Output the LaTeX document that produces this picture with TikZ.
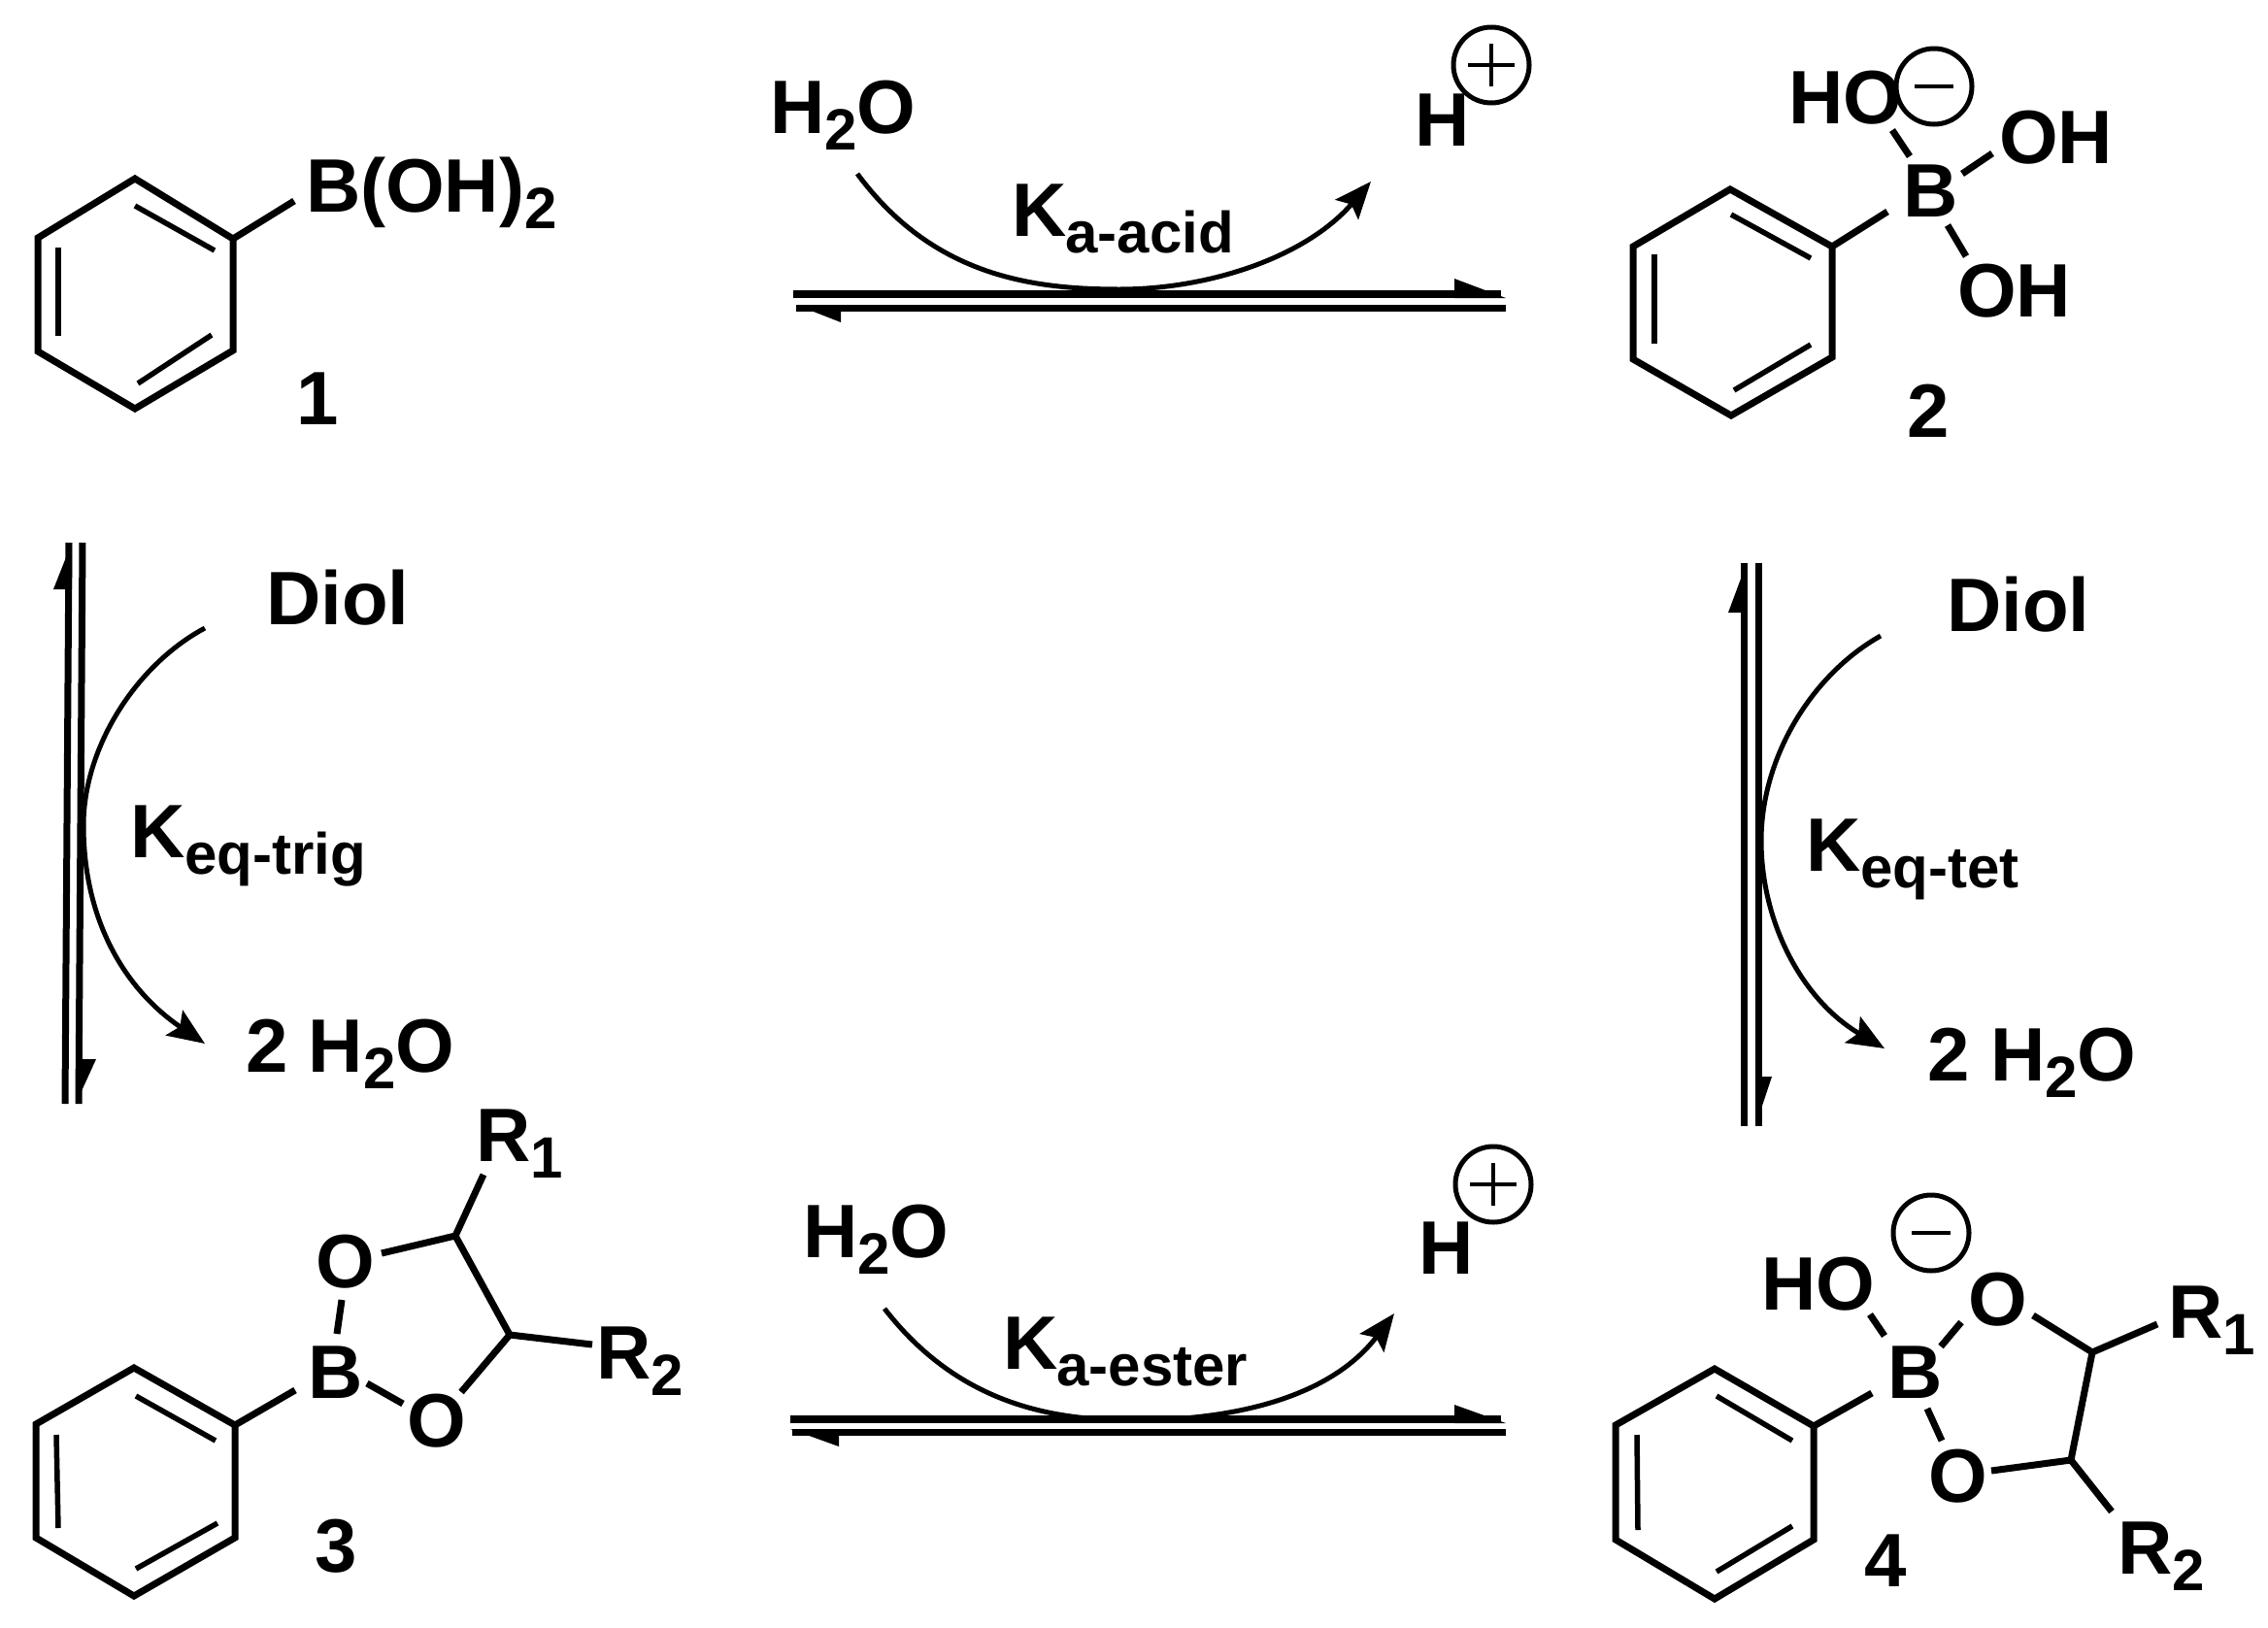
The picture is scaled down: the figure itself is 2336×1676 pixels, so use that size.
\documentclass[tikz,border=0pt]{standalone}
\usepackage{fontspec}
\setmainfont{Liberation Sans}[BoldFont={* Bold}]
\usetikzlibrary{arrows.meta}
\newcommand\mainsz{\fontsize{78}{78}\selectfont\bfseries}
\newcommand\subsz{\fontsize{60}{60}\selectfont\bfseries}
\newcommand\lowr[1]{\raisebox{-17pt}{\subsz #1}}
\tikzset{
  x=1pt,y=-1pt,
  lab/.style={anchor=base west,inner sep=0pt,outer sep=0pt,font=\mainsz,text=black},
  bond/.style={draw=black,line width=7pt,line join=miter},
  inbond/.style={draw=black,line width=5.5pt},
  eq/.style={draw=black,line width=8pt},
  eqthin/.style={draw=black,line width=7pt},
  curved/.style={draw=black,line width=5pt},
  curvedtip/.style={curved,-{Stealth[length=38pt,width=31pt,inset=7pt]}},
  half/.style={fill=black,draw=none},
  chg/.style={circle,draw=black,line width=5pt,minimum size=78pt,inner sep=0pt},
  sign/.style={draw=black,line width=3.5pt}
}
\begin{document}
\begin{tikzpicture}
\useasboundingbox (0,0) rectangle (2336,1676);
\fill[white] (0,0) rectangle (2336,1676);

% ---------- compound 1 ----------
\draw[bond] (139,184) -- (240,246) -- (240,361) -- (139,421) -- (39,362) -- (39,245) -- cycle;
\draw[inbond] (139,212) -- (221,258);
\draw[inbond] (60,255) -- (60,346);
\draw[inbond] (142,395) -- (218,345);
\coordinate (r1c) at (240,246);
\coordinate (r1b) at (303,207);
\draw[bond] (r1c) -- (r1b);
\node[lab] (boh) at (315,218) {B(OH)\lowr{2}};
\node[lab] (n1) at (305,437) {1};

% ---------- compound 2 ----------
\draw[bond] (1782,195) -- (1887,254) -- (1887,368) -- (1783,428) -- (1682,370) -- (1682,254) -- cycle;
\draw[inbond] (1783,221) -- (1865,266);
\draw[inbond] (1704,262) -- (1704,354);
\draw[inbond] (1786,402) -- (1865,355);
\node[lab] (b2) at (1960,223) {B};
\node[lab] (ho2) at (1842,127) {HO};
\node[lab] (oh2a) at (2059,168) {OH};
\node[lab] (oh2b) at (2016,326) {OH};
\node[lab] (n2) at (1964,450) {2};
\node[chg] (m2) at (1992,89) {};
\draw[sign] ([xshift=-20pt]m2.center) -- ([xshift=20pt]m2.center);
\coordinate (r2c) at (1887,254);
\coordinate (r2b) at (1944,218);
\draw[bond] (r2c) -- (r2b);
\coordinate (b2a) at (1949,134); \coordinate (b2b) at (1967,161);
\draw[bond] (b2a) -- (b2b);
\coordinate (b2c) at (2021,179); \coordinate (b2d) at (2052,158);
\draw[bond] (b2c) -- (b2d);
\coordinate (b2e) at (2006,232); \coordinate (b2f) at (2025,264);
\draw[bond] (b2e) -- (b2f);

% ---------- compound 3 ----------
\draw[bond] (138,1409) -- (242,1468) -- (242,1584) -- (138,1644) -- (37,1584) -- (37,1467) -- cycle;
\draw[inbond] (140,1438) -- (222,1484);
\draw[inbond] (58,1478) -- (60,1574);
\draw[inbond] (140,1616) -- (224,1569);
\node[lab] (b3) at (317,1440) {B};
\node[lab] (o3a) at (325,1326) {O};
\node[lab] (o3b) at (419,1490) {O};
\node[lab] (r31) at (490,1196) {R\lowr{1}};
\node[lab] (r32) at (614,1420) {R\lowr{2}};
\node[lab] (n3) at (324,1619) {3};
\coordinate (c31) at (469,1273);
\coordinate (c32) at (525,1375);
\coordinate (r3c) at (242,1468); \coordinate (r3b) at (304,1432);
\draw[bond] (r3c) -- (r3b);
\coordinate (b3a) at (352,1339); \coordinate (b3b) at (347,1374);
\draw[bond] (b3a) -- (b3b);
\coordinate (b3c) at (378,1425); \coordinate (b3d) at (415,1446);
\draw[bond] (b3c) -- (b3d);
\coordinate (o3ae) at (393,1291);
\coordinate (o3be) at (475,1434);
\coordinate (r31e) at (498,1210);
\coordinate (r32e) at (610,1385);
\draw[bond] (o3ae) -- (c31) -- (c32) -- (o3be);
\draw[bond] (c31) -- (r31e);
\draw[bond] (c32) -- (r32e);

% ---------- compound 4 ----------
\draw[bond] (1766,1410) -- (1868,1469) -- (1868,1586) -- (1766,1647) -- (1664,1586) -- (1664,1468) -- cycle;
\draw[inbond] (1768,1438) -- (1846,1484);
\draw[inbond] (1686,1478) -- (1687,1576);
\draw[inbond] (1768,1619) -- (1846,1572);
\node[lab] (b4) at (1944,1440) {B};
\node[lab] (ho4) at (1814,1349) {HO};
\node[lab] (o4a) at (2027,1365) {O};
\node[lab] (o4b) at (1986,1547) {O};
\node[lab] (r41) at (2233,1378) {R\lowr{1}};
\node[lab] (r42) at (2181,1621) {R\lowr{2}};
\node[lab] (n4) at (1920,1634) {4};
\node[chg] (m4) at (1989,1270) {};
\draw[sign] ([xshift=-20pt]m4.center) -- ([xshift=20pt]m4.center);
\coordinate (r4c) at (1868,1469); \coordinate (r4b) at (1928,1435);
\draw[bond] (r4c) -- (r4b);
\coordinate (b4a) at (1926,1354); \coordinate (b4b) at (1941,1376);
\draw[bond] (b4a) -- (b4b);
\coordinate (b4c) at (1999,1387); \coordinate (b4d) at (2020,1362);
\draw[bond] (b4c) -- (b4d);
\coordinate (b4e) at (1985,1451); \coordinate (b4f) at (2000,1484);
\draw[bond] (b4e) -- (b4f);
\coordinate (c41) at (2155,1393);
\coordinate (c42) at (2133,1504);
\coordinate (o4ae) at (2094,1355);
\coordinate (o4be) at (2051,1515);
\coordinate (r41e) at (2222,1364);
\coordinate (r42e) at (2175,1557);
\draw[bond] (o4ae) -- (c41) -- (c42) -- (o4be);
\draw[bond] (c41) -- (r41e);
\draw[bond] (c42) -- (r42e);

% ---------- top equilibrium ----------
\node[lab] (w1) at (793,137) {H\lowr{2}O};
\node[lab] (h1) at (1457,150) {H};
\node[chg] (p1) at (1536,67) {};
\draw[sign] ([xshift=-24pt]p1.center) -- ([xshift=24pt]p1.center);
\draw[sign] ([yshift=-22pt]p1.center) -- ([yshift=22pt]p1.center);
\node[lab] (ka1) at (1042,243) {K\lowr{\kern-1pt a-acid}};
\coordinate (t1a) at (817,303); \coordinate (t1b) at (1546,303);
\coordinate (t1c) at (1551,317); \coordinate (t1d) at (820,317);
\draw[eq] (t1a) -- (t1b);
\fill[half] (1551,307) -- (1498,287) -- (1498,307) -- cycle;
\draw[eqthin] (t1c) -- (t1d);
\fill[half] (820,314) -- (866,332) -- (866,314) -- cycle;
\coordinate (cv1s) at (883,179); \coordinate (cv1m) at (1153,298); \coordinate (cv1e) at (1412,187);
\draw[curved] (cv1s) .. controls (960,283) and (1060,298) .. (cv1m);
\draw[curvedtip] (cv1m) .. controls (1245,298) and (1345,265) .. (cv1e);

% ---------- bottom equilibrium ----------
\node[lab] (w2) at (827,1295) {H\lowr{2}O};
\node[lab] (h2) at (1461,1312) {H};
\node[chg] (p2) at (1538,1220) {};
\draw[sign] ([xshift=-24pt]p2.center) -- ([xshift=24pt]p2.center);
\draw[sign] ([yshift=-22pt]p2.center) -- ([yshift=22pt]p2.center);
\node[lab] (ka2) at (1033,1410) {K\lowr{\kern-1pt a-ester}};
\coordinate (t2a) at (814,1462); \coordinate (t2b) at (1546,1462);
\coordinate (t2c) at (1551,1475); \coordinate (t2d) at (816,1475);
\draw[eq] (t2a) -- (t2b);
\fill[half] (1551,1466) -- (1498,1447) -- (1498,1466) -- cycle;
\draw[eqthin] (t2c) -- (t2d);
\fill[half] (814,1472) -- (864,1490) -- (864,1472) -- cycle;
\coordinate (cv2s) at (911,1348); \coordinate (cv2m) at (1168,1463); \coordinate (cv2e) at (1436,1353);
\draw[curved] (cv2s) .. controls (990,1450) and (1090,1463) .. (cv2m);
\draw[curvedtip] (cv2m) .. controls (1270,1463) and (1370,1440) .. (cv2e);

% ---------- left equilibrium ----------
\node[lab] (d1) at (274,643) {Diol};
\node[lab] (w3) at (253,1104) {2 H\lowr{2}O};
\node[lab] (kq1) at (134,883) {K\lowr{eq-trig}};
\coordinate (l1a) at (71,559); \coordinate (l1b) at (67,1137);
\coordinate (l2a) at (85,559); \coordinate (l2b) at (81,1137);
\draw[eqthin] (l1a) -- (l1b);
\draw[eqthin] (l2a) -- (l2b);
\fill[half] (74,559) -- (55,607) -- (74,607) -- cycle;
\fill[half] (78,1137) -- (99,1091) -- (78,1091) -- cycle;
\coordinate (cv3s) at (211,647); \coordinate (cv3m) at (86,850); \coordinate (cv3e) at (211,1075);
\draw[curved] (cv3s) .. controls (140,685) and (86,770) .. (cv3m);
\draw[curvedtip] (cv3m) .. controls (86,950) and (130,1020) .. (cv3e);

% ---------- right equilibrium ----------
\node[lab] (d2) at (2005,650) {Diol};
\node[lab] (w4) at (1985,1113) {2 H\lowr{2}O};
\node[lab] (kq2) at (1860,897) {K\lowr{eq-tet}};
\coordinate (r1a) at (1796,580); \coordinate (r1z) at (1796,1160);
\coordinate (r2a) at (1811,580); \coordinate (r2z) at (1811,1160);
\draw[eqthin] (r1a) -- (r1z);
\draw[eqthin] (r2a) -- (r2z);
\fill[half] (1799,580) -- (1780,631) -- (1799,631) -- cycle;
\fill[half] (1808,1160) -- (1825,1109) -- (1808,1109) -- cycle;
\coordinate (cv4s) at (1937,655); \coordinate (cv4m) at (1814,866); \coordinate (cv4e) at (1941,1080);
\draw[curved] (cv4s) .. controls (1866,695) and (1814,780) .. (cv4m);
\draw[curvedtip] (cv4m) .. controls (1814,950) and (1856,1030) .. (cv4e);
\end{tikzpicture}
\end{document}
